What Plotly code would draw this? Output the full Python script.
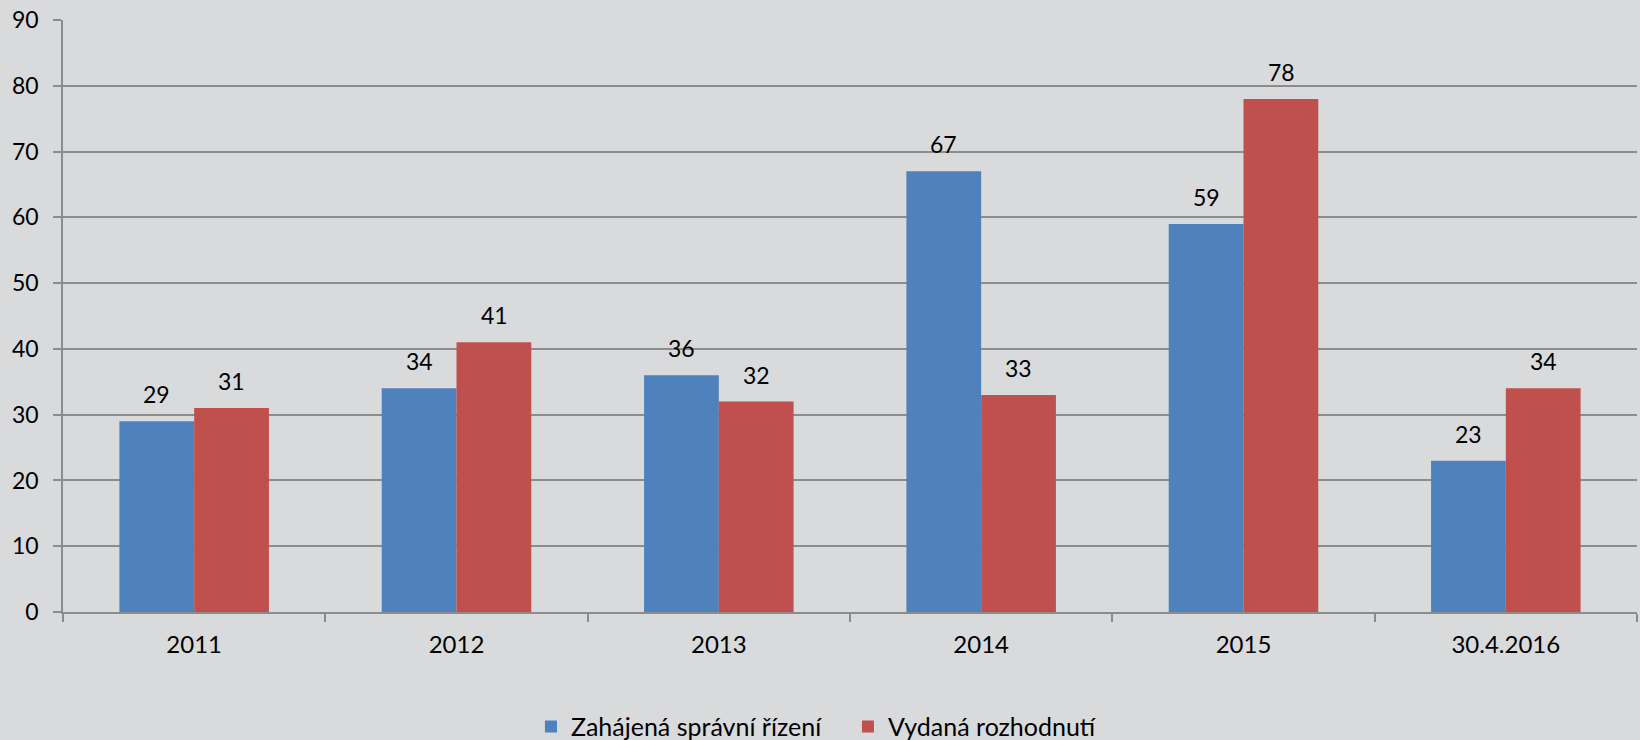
import plotly.graph_objects as go

categories = ["2011", "2012", "2013", "2014", "2015", "30.4.2016"]
zahajena = [29, 34, 36, 67, 59, 23]
vydana = [31, 41, 32, 33, 78, 34]
y_ticks = [0, 10, 20, 30, 40, 50, 60, 70, 80, 90]

FONT = "Lato"
BLUE = "#4F81BD"
RED = "#C0504D"
fig = go.Figure()
fig.add_trace(go.Bar(name="Zahájená správní řízení", x=categories, y=zahajena,
                     marker_color=BLUE, marker_line_width=0))
fig.add_trace(go.Bar(name="Vydaná rozhodnutí", x=categories, y=vydana,
                     marker_color=RED, marker_line_width=0))

# value labels above bars (category index on the category axis)
annotations = []
for series, shift in ((zahajena, -37.5), (vydana, 37.5)):
    for i, v in enumerate(series):
        annotations.append(dict(x=i, y=v, xref="x", yref="y", text=str(v),
                                showarrow=False, xshift=shift, yshift=27,
                                yanchor="middle", font=dict(size=23, color="black", family=FONT)))

fig.update_layout(
    width=1640, height=740,
    margin=dict(l=63, r=3, t=20, b=128, autoexpand=False),
    paper_bgcolor="#D9DADC", plot_bgcolor="#D9DADC",
    barmode="group", bargap=0.43, bargroupgap=0,
    font=dict(family=FONT, size=22, color="black"),
    annotations=annotations,
    legend=dict(orientation="h", x=0.2973, xanchor="left", y=-0.194, yanchor="middle",
                font=dict(size=25), itemwidth=30, tracegroupgap=0,
                entrywidth=272, entrywidthmode="pixels",
                bgcolor="rgba(0,0,0,0)"),
    xaxis=dict(type="category", categoryorder="array", categoryarray=categories,
               range=[-0.5, 5.5],
               showline=True, linecolor="#8C8C8C", linewidth=1.5,
               ticks="outside", tickson="boundaries", ticklen=8, tickcolor="#8C8C8C",
               tickwidth=1.5, showgrid=False, tickfont=dict(size=24), tickangle=0,
               ticklabelstandoff=10),
    yaxis=dict(range=[0, 90], tickvals=y_ticks, showline=True, linecolor="#8C8C8C",
               linewidth=1.5, ticks="outside", ticklen=8, tickcolor="#8C8C8C", tickwidth=1.5,
               showgrid=True, gridcolor="#8C8C8C", gridwidth=1.5, zeroline=False,
               tickfont=dict(size=23), ticklabelstandoff=10),
)
fig.write_html("out.html", config={"displayModeBar": False},
               post_script="document.body.style.margin='0px';")
